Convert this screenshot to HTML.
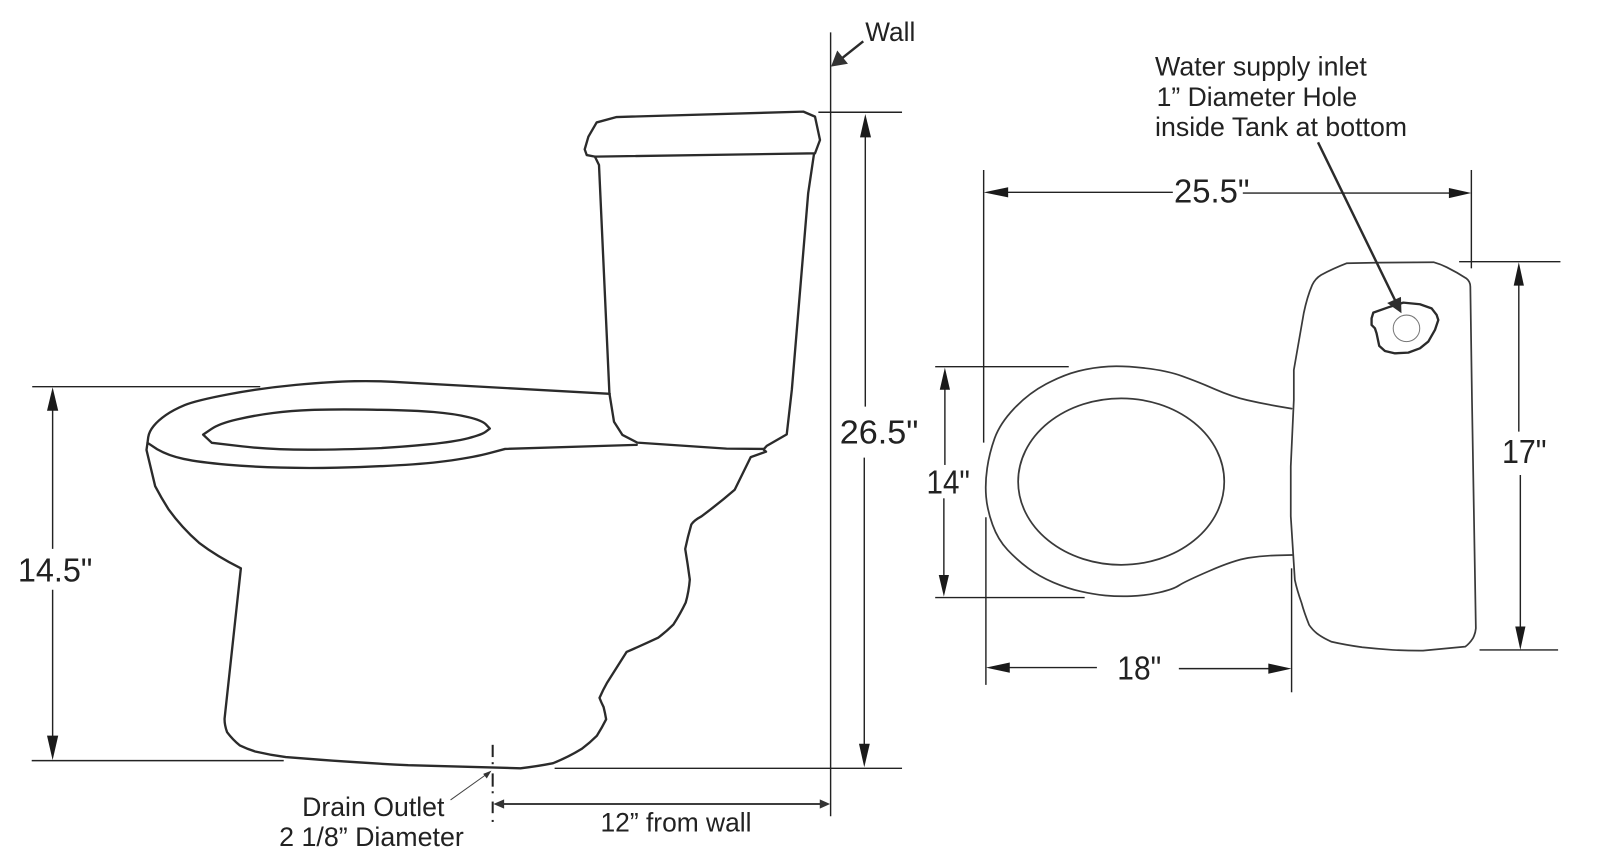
<!DOCTYPE html>
<html lang="en">
<head>
<meta charset="utf-8">
<title>Toilet dimensions diagram</title>
<style>
html,body{margin:0;padding:0;background:#fff;}
svg{display:block;width:1600px;height:854px;}
text{font-family:"Liberation Sans",sans-serif;fill:#222;}
.o{fill:none;stroke:#2b2b2b;stroke-width:2.3;stroke-linejoin:round;stroke-linecap:round;}
.t{fill:none;stroke:#3a3a3a;stroke-width:1.7;stroke-linejoin:round;stroke-linecap:round;}
.d{fill:none;stroke:#222;stroke-width:1.4;}
.a{fill:#1a1a1a;stroke:none;}
.l{font-size:26px;}
.n{font-size:33px;}
</style>
</head>
<body>
<svg xmlns="http://www.w3.org/2000/svg" viewBox="0 0 1568 837" width="1600" height="854">
<rect width="1568" height="837" fill="#fff"/>

<!-- side view: seat -->
<path class="o" d="M597.5,386 L385,374.2 Q370,373.3 347.5,373.6 Q325,374 290,377.2 Q255,380.5 223.5,386.5 Q192,392.5 181,397 Q170,401.6 162.5,406.8 Q155,412 150.5,417.5 Q146,423 145.2,428.5 L144.5,434 L154,440.3 Q165,446.6 180,449.8 Q195,453 222.5,455.4 Q250,457.7 275,458.3 Q300,459 330,458.4 Q360,457.7 390,456 Q420,454.4 442.5,451.2 Q465,448 480,444 L495,440 L624,436"/>
<path class="o" d="M199,426 L207,420.5 Q215,415 232.5,411 Q250,407 267.5,404.8 Q285,402.6 305,401.8 Q325,401 365,401.5 Q405,402 425,403.8 Q445,405.5 458.8,408.8 Q472.5,412 476.2,416 L480,420 L476.2,423 Q472.5,426 458.8,429.5 Q445,433 420,435.5 Q395,438 372.5,439.2 Q350,440.4 308.8,440.7 Q267.5,441 237.5,437.5 L207.5,434 Z"/>
<!-- side view: bowl -->
<path class="o" d="M144.5,434 L143.5,441 L152,476.5 Q158,488 165,499 Q178,517 195,532 Q212,545 236,557 L220,704.6 Q220,711 222.5,717.6 Q228,725 235,730.6 Q242,734 250,736.5 Q265,740 280,742 Q340,747 400,750 L510,753 Q527,751 542,748 Q557,742 570,734 Q578,728 585,721 Q590,713 594,705 Q593,699 591.5,693 Q589,688 587.5,684 Q591,676 595,669 L614,639 Q630,632 645,625 Q653,619 660,612 Q667,601 672,590.5 Q675,580 676,568 Q674,553 671.5,538 Q674,526 677.5,514 Q680,510 687.5,506 Q705,493 720,480 L735.7,448 L750.7,442.7 L748.7,441"/>
<!-- side view: tank -->
<polygon class="o" points="584.7,120 604.3,114.7 787.3,109.4 798.7,114.3 803.6,137.2 798.7,150.3 583,153.5 575,152 573,146.4 576.6,134"/>
<polyline class="o" points="583,153.5 587,161.7 597.2,385.5 601.7,413.3 610,426.3 624.6,433.8 712,439.7 748.7,440 751.4,437 771,425.7 776,382 792,189.5 797.7,151"/>

<!-- wall and side dimension lines -->
<line class="d" x1="814" y1="31.7" x2="814" y2="800"/>
<line class="d" x1="802" y1="110" x2="884" y2="110"/>
<line class="d" x1="543.5" y1="753" x2="884" y2="753"/>
<line class="d" x1="848" y1="125" x2="848" y2="398.5"/>
<line class="d" x1="847" y1="448.5" x2="847" y2="735"/>
<polygon class="a" points="848,111.7 842.8,134.6 853.6,134.6"/>
<polygon class="a" points="847,752 841.8,729 852.4,729"/>
<line x1="846" y1="40.5" x2="824" y2="58" stroke="#2b2b2b" stroke-width="2.4"/>
<polygon fill="#333" points="814.4,65.3 820.5,49.5 831,62.5"/>
<text class="l" x="848" y="40" textLength="49" lengthAdjust="spacingAndGlyphs">Wall</text>
<text class="n" x="823" y="434.5" textLength="77" lengthAdjust="spacingAndGlyphs">26.5"</text>

<!-- 14.5 dimension -->
<line class="d" x1="31.5" y1="379" x2="255" y2="379"/>
<line class="d" x1="31" y1="745.5" x2="278" y2="745.5"/>
<line class="d" x1="51.5" y1="395" x2="51.5" y2="538"/>
<line class="d" x1="51.5" y1="578" x2="51.5" y2="730"/>
<polygon class="a" points="51.5,379.5 46,402.6 57,402.6"/>
<polygon class="a" points="51.5,745 46,721 57,721"/>
<text class="n" x="17.5" y="570" textLength="73" lengthAdjust="spacingAndGlyphs">14.5"</text>

<!-- drain -->
<g stroke="#222" stroke-width="2" fill="none">
<line x1="482.8" y1="730" x2="482.8" y2="742"/>
<line x1="482.8" y1="747" x2="482.8" y2="749"/>
<line x1="482.8" y1="758" x2="482.8" y2="771"/>
<line x1="482.8" y1="775.5" x2="482.8" y2="777.5"/>
<line x1="482.8" y1="785.6" x2="482.8" y2="797"/>
<line x1="482.8" y1="803.6" x2="482.8" y2="805.6"/>
</g>
<line x1="441.5" y1="784" x2="478" y2="758" stroke="#444" stroke-width="1"/>
<polygon fill="#333" points="481.6,755.3 473.5,758.5 477,763"/>
<line x1="490" y1="788" x2="808" y2="788" stroke="#222" stroke-width="1.8"/>
<polygon fill="#333" points="483.5,788 494,783.5 494,792.5"/>
<polygon fill="#333" points="813.5,788 803.4,783.5 803.4,792.5"/>
<text class="l" x="296" y="799.7" textLength="139.5" lengthAdjust="spacingAndGlyphs">Drain Outlet</text>
<text class="l" x="273.5" y="829" textLength="181" lengthAdjust="spacingAndGlyphs">2 1/8” Diameter</text>
<text class="l" x="588.5" y="815" textLength="148" lengthAdjust="spacingAndGlyphs">12” from wall</text>

<!-- top view: bowl -->
<path class="t" d="M1265.8,400.5 L1251.4,398 Q1237,395.5 1222.3,392.15 Q1207.6,388.8 1190.6,381.4 Q1173.6,374 1158.7,368.65 Q1143.8,363.3 1122.4,360.85 Q1101,358.4 1086.3,359.2 Q1071.6,360 1056.8,363.75 Q1042,367.5 1025,376.5 Q1008,385.5 994,400.25 Q980,415 974.8,429.5 Q969.6,444 967.45,458.85 Q965.3,473.7 966.4,486.75 Q967.5,499.8 972.75,514.4 Q978,529 987.5,539 Q997,549 1007.75,557 Q1018.5,565 1032.25,570.8 Q1046,576.6 1058.8,579.55 Q1071.6,582.5 1083.3,583.6 Q1095,584.7 1108.8,584.25 Q1122.6,583.8 1136.3,580.65 Q1150,577.5 1155.5,573.75 Q1161,570 1185.35,559.5 Q1209.7,549 1223.35,546.8 Q1237,544.6 1251.6,544.3 L1266.2,544"/>
<ellipse class="t" cx="1098.8" cy="472" rx="101" ry="81.6"/>
<!-- top view: tank -->
<path class="t" d="M1268,362.6 L1277.7,307 Q1281,291 1286,279.3 Q1289,273 1294.7,269.5 Q1307,263 1320,258 L1352,257.4 L1405,257 Q1412,259 1418,262 Q1428,267 1437,272.8 Q1441,276 1441,281 L1442.6,392 L1446.4,615.8 Q1446,621 1443.5,625.6 Q1440,631 1436,633.8 L1394.6,637.7 Q1380,637.8 1365,637 Q1350,636 1335,634.4 Q1318,632 1305,629 Q1296,625 1290.5,620.7 Q1286,617 1283,612.5 Q1278,600 1275.6,591 Q1271,578 1269,568.4 Q1267,537 1265,506 L1265,457 L1268,392 Z"/>
<!-- hole -->
<polygon class="o" points="1345.9,306.4 1360.6,301.2 1375.3,296.6 1391.6,298.2 1403,302.2 1408,308.7 1409.6,313.6 1406.3,323.4 1399.8,334.8 1391.6,341.4 1380.2,345.6 1367.1,346.3 1357.3,344 1351.7,339 1349.1,326.7 1347.5,321.8 1344.2,318.5 1344.2,312"/>
<circle cx="1378.4" cy="321.8" r="13" fill="none" stroke="#777" stroke-width="1"/>
<line x1="1291.7" y1="139.5" x2="1370" y2="300" stroke="#2b2b2b" stroke-width="2.4"/>
<polygon fill="#2e2e2e" points="1373.5,307 1359.5,297 1373,291"/>
<text class="l" x="1132" y="74.2" textLength="207.5" lengthAdjust="spacingAndGlyphs">Water supply inlet</text>
<text class="l" x="1133.6" y="103.9" textLength="196.4" lengthAdjust="spacingAndGlyphs">1” Diameter Hole</text>
<text class="l" x="1132" y="133.3" textLength="247" lengthAdjust="spacingAndGlyphs">inside Tank at bottom</text>

<!-- 25.5 dimension -->
<line class="d" x1="964" y1="166.6" x2="964" y2="433.8"/>
<line class="d" x1="1442" y1="166.6" x2="1442" y2="263"/>
<line class="d" x1="975" y1="188.5" x2="1149.4" y2="188.5"/>
<line class="d" x1="1218" y1="189.2" x2="1430" y2="189.2"/>
<polygon class="a" points="964,188.5 988,183.5 988,193.5"/>
<polygon class="a" points="1442,189.2 1420,184.2 1420,194.2"/>
<text class="n" x="1150.6" y="198.3" textLength="74" lengthAdjust="spacingAndGlyphs">25.5"</text>

<!-- 14 dimension -->
<line class="d" x1="916.5" y1="359.4" x2="1047.4" y2="359.4"/>
<line class="d" x1="916.5" y1="585.7" x2="1063" y2="585.7"/>
<line class="d" x1="926" y1="375" x2="926" y2="455.7"/>
<line class="d" x1="925" y1="488.4" x2="925" y2="570"/>
<polygon class="a" points="926,360.3 921,382 931,382"/>
<polygon class="a" points="925,584.7 920,563.5 930,563.5"/>
<text class="n" x="908" y="483.5" textLength="42.5" lengthAdjust="spacingAndGlyphs">14"</text>

<!-- 18 dimension -->
<line class="d" x1="966.2" y1="507" x2="966.2" y2="671.3"/>
<line class="d" x1="1265.8" y1="557" x2="1265.8" y2="678.5"/>
<line class="d" x1="975" y1="654.3" x2="1075" y2="654.3"/>
<line class="d" x1="1155.3" y1="655.3" x2="1255" y2="655.3"/>
<polygon class="a" points="966.2,654.3 989.6,649.3 989.6,659.3"/>
<polygon class="a" points="1265.8,655.3 1243,650.3 1243,660.3"/>
<text class="n" x="1095" y="665.8" textLength="43" lengthAdjust="spacingAndGlyphs">18"</text>

<!-- 17 dimension -->
<line class="d" x1="1430" y1="256.5" x2="1529.3" y2="256.5"/>
<line class="d" x1="1450" y1="637" x2="1527" y2="637"/>
<line class="d" x1="1488.5" y1="272" x2="1488.5" y2="423"/>
<line class="d" x1="1490" y1="465.5" x2="1490" y2="622"/>
<polygon class="a" points="1488.5,257 1483.5,280 1493.5,280"/>
<polygon class="a" points="1490,637 1485,614 1495,614"/>
<text class="n" x="1472" y="454" textLength="43.7" lengthAdjust="spacingAndGlyphs">17"</text>
</svg>
</body>
</html>
